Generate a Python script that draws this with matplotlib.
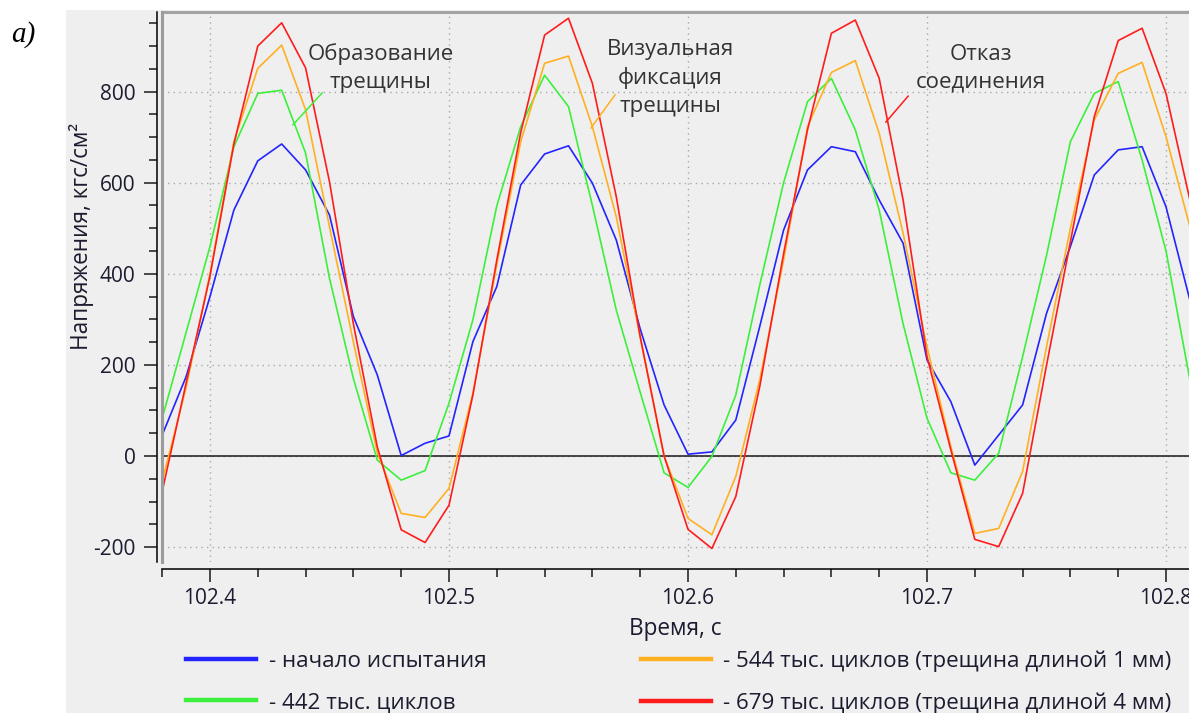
import matplotlib
matplotlib.use("Agg")
import matplotlib.pyplot as plt
import numpy as np
from matplotlib.lines import Line2D
from matplotlib.patches import Rectangle
from matplotlib.ticker import MultipleLocator, FormatStrFormatter

# Time samples, s (step 0.01)
t = np.round(np.arange(102.38, 102.815, 0.01), 2)

# Stress, kgf/cm^2, one value per sample
start = [46, 174, 350, 540, 648, 685, 628, 529, 306, 178, 1, 28, 44, 251, 372,
         595, 663, 681, 599, 474, 279, 112, 4, 9, 79, 284, 496, 628, 679, 668,
         562, 467, 211, 119, -20, 46, 112, 313, 460, 617, 672, 679, 547, 342]
k442 = [83, 271, 460, 679, 796, 803, 665, 390, 170, -9, -53, -32, 116, 299, 549,
        723, 836, 767, 550, 320, 140, -37, -69, -1, 134, 375, 600, 778, 829, 716,
        540, 290, 83, -37, -53, 6, 218, 440, 690, 796, 822, 650, 450, 167]
k544 = [-55, 150, 400, 690, 851, 902, 760, 503, 250, 7, -126, -135, -71, 138, 420,
        690, 862, 878, 723, 525, 260, 0, -137, -173, -45, 167, 430, 723, 842, 868,
        708, 489, 240, 20, -170, -159, -34, 240, 500, 738, 840, 864, 701, 503]
k679 = [-78, 160, 395, 685, 900, 951, 852, 602, 290, 20, -162, -190, -108, 134, 430,
        710, 924, 961, 818, 569, 262, 0, -161, -203, -89, 152, 444, 716, 928, 957,
        829, 562, 218, 13, -183, -199, -82, 199, 470, 745, 912, 939, 796, 562]

labels = ["- начало испытания", "- 442 тыс. циклов",
          "- 544 тыс. циклов (трещина длиной 1 мм)",
          "- 679 тыс. циклов (трещина длиной 4 мм)"]
colors = ["#2424ff", "#3cef3c", "#ffb021", "#ff1c1c"]

# callouts: text, text centre (t, value), leader line start/end
notes = [("Образование\nтрещины", (102.4715, 852), (102.4469, 797), (102.4347, 727), colors[1]),
         ("Визуальная\nфиксация\nтрещины", (102.5925, 830), (102.5695, 793), (102.5594, 720), colors[2]),
         ("Отказ\nсоединения", (102.7226, 852), (102.6921, 790), (102.6828, 733), colors[3])]

plt.rcParams["font.family"] = ["Open Sans", "DejaVu Sans"]
plt.rcParams["axes.unicode_minus"] = False
W, H = 1189, 713
fig = plt.figure(figsize=(W / 100, H / 100), dpi=100)
fig.patch.set_facecolor("white")
fig.add_artist(Rectangle((66 / W, 0), 1, 1 - 10 / H, transform=fig.transFigure,
                         facecolor="#efefef", edgecolor="none", zorder=-5))

ax = fig.add_axes([162 / W, 1 - 562 / H, 1027 / W, 550 / H])
ax.set_facecolor("#efefef")

for y, c in zip([start, k442, k544, k679], colors):
    ax.plot(t, y, color=c, lw=1.2, zorder=3)

ax.axhline(0, color="#1a1a1a", lw=1.1, zorder=2)
ax.set_xlim(102.37992, 102.80962)
ax.set_ylim(-232.7, 974.7)

ax.xaxis.set_major_locator(MultipleLocator(0.1))
ax.xaxis.set_minor_locator(MultipleLocator(0.02))
ax.yaxis.set_major_locator(MultipleLocator(200))
ax.yaxis.set_minor_locator(MultipleLocator(50))
ax.xaxis.set_major_formatter(FormatStrFormatter("%.1f"))
ax.grid(True, which="major", color="#a8a8a8", ls=(0, (1, 3)), lw=1.0)

ax.spines["right"].set_visible(False)
ax.spines["top"].set_color("#a3a3a3")
ax.spines["top"].set_linewidth(2.2)
ax.spines["left"].set_position(("outward", 3.6))
ax.spines["bottom"].set_position(("outward", 5))
ax.spines["left"].set_linewidth(1.1)
ax.spines["bottom"].set_linewidth(1.1)
ax.plot([0, 0], [0, 1], transform=ax.transAxes, color="#9c9c9c", lw=2.2,
        clip_on=False, zorder=4)

tick_col = "#1c1c30"
ax.tick_params(axis="both", which="major", length=9.5, width=1.1, labelsize=15,
               labelcolor=tick_col, color="#1a1a1a")
ax.tick_params(axis="both", which="minor", length=5.5, width=1.1, color="#1a1a1a")
ax.tick_params(axis="y", which="major", pad=6)
ax.tick_params(axis="x", which="major", pad=4)

fig.text(675 / W, 1 - 629 / H, "Время, с", ha="center", va="center",
         fontsize=16.3, color=tick_col)
fig.text(81 / W, 1 - 236 / H, "Напряжения, кгс/см²", rotation=90, ha="center",
         va="center", fontsize=16.3, color=tick_col)
fig.text(11 / W, 1 - 35 / H, "a)", fontsize=21, style="italic",
         family="Liberation Serif", ha="left", va="center")

for text, pos, p0, p1, c in notes:
    ax.text(pos[0], pos[1], text, ha="center", va="center", fontsize=16,
            color="#333333", linespacing=1.42, zorder=5)
    ax.plot([p0[0], p1[0]], [p0[1], p1[1]], color=c, lw=1.1, zorder=5)

handles = [Line2D([], [], color=c, lw=3.2) for c in colors]
fig.legend(handles, labels, ncol=2, loc="center left",
           bbox_to_anchor=(186 / W, 1 - 682 / H), frameon=False,
           fontsize=16.1, handlelength=3.15, handletextpad=0.55,
           columnspacing=6.9, labelspacing=0.9, borderpad=0, borderaxespad=0,
           labelcolor=tick_col)

fig.savefig("out.png", dpi=100)
